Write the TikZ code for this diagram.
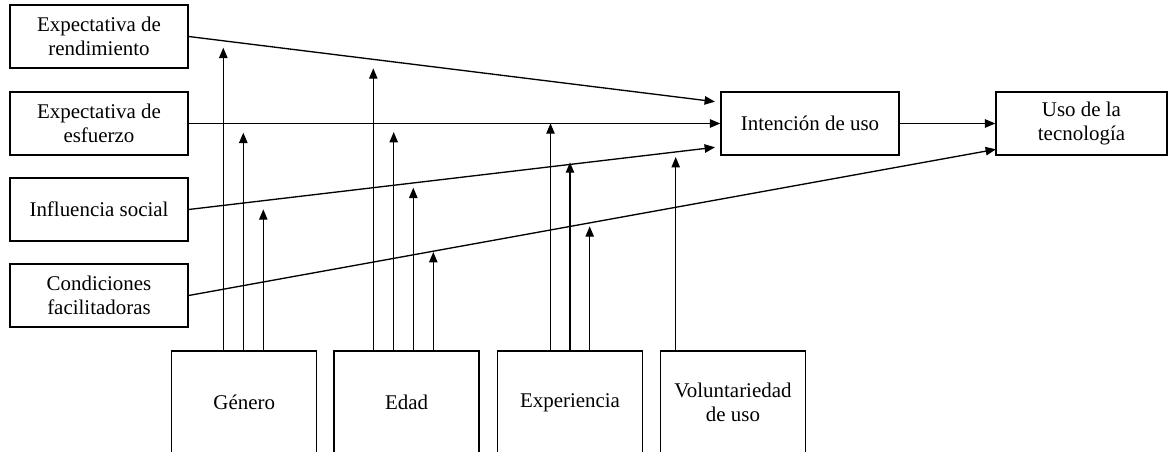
\documentclass[tikz,border=0pt]{standalone}
\usepackage{fontspec}
\setmainfont{Liberation Serif}
\usetikzlibrary{arrows.meta}
\begin{document}
\begin{tikzpicture}[x=0.75pt,y=-0.75pt,line width=1pt,
  box/.style={draw,line width=1pt,align=center,inner sep=2pt,font=\fontsize{15.7pt}{18.5pt}\selectfont},
  lbox/.style={box,minimum width=133.5pt,minimum height=47.25pt},
  bbox/.style={box,minimum width=108.75pt,minimum height=77.25pt},
  arr/.style={-{Triangle[length=7.8pt,width=6.3pt]}}]
\useasboundingbox (0,0) rectangle (1169,452);
\clip (0,0) rectangle (1169,452);
% left boxes
\node[lbox] (er) at (99,36.5) {Expectativa de\\rendimiento};
\node[lbox] (ee) at (99,123.5) {Expectativa de\\esfuerzo};
\node[lbox] (is) at (99,209.5) {Influencia social};
\node[lbox] (cf) at (99,295.5) {Condiciones\\facilitadoras};
% right boxes
\node[lbox] (int) at (810,123.5) {Intención de uso};
\node[box,minimum width=128.25pt,minimum height=47.25pt] (uso) at (1081.5,123.5) {Uso de la\\tecnología};
% bottom boxes
\node[bbox] (gen) at (244.2,402.5) {Género};
\node[bbox] (eda) at (406.5,402.5) {Edad};
\node[bbox] (exp) at (570,402.5) {Experiencia};
\node[bbox] (vol) at (733,402.5) {Voluntariedad\\de uso};
% main connectors
\coordinate (erE) at (715,101.7);
\coordinate (isE) at (715,147.3);
\coordinate (cfE) at (996,149.3);
\draw[arr] (er.east) -- (erE);
\draw[arr] (ee.east) -- (int.west);
\draw[arr] (is.east) -- (isE);
\draw[arr] (cf.east) -- (cfE);
\draw[arr] (int.east) -- (uso.west);
% moderators: Género
\draw[arr] ([xshift=-20.9*0.75pt]gen.north) -- ++(0,-302.7);
\draw[arr] ([xshift=-0.9*0.75pt]gen.north) -- ++(0,-217.7);
\draw[arr] ([xshift=19.1*0.75pt]gen.north) -- ++(0,-141);
% Edad
\draw[arr] ([xshift=-33.2*0.75pt]eda.north) -- ++(0,-282);
\draw[arr] ([xshift=-12.8*0.75pt]eda.north) -- ++(0,-218.3);
\draw[arr] ([xshift=6.8*0.75pt]eda.north) -- ++(0,-162.7);
\draw[arr] ([xshift=26.8*0.75pt]eda.north) -- ++(0,-98.3);
% Experiencia
\draw[arr] ([xshift=-19.5*0.75pt]exp.north) -- ++(0,-227);
\draw[arr] (exp.north) -- ++(0,-188);
\draw[arr] ([xshift=19.7*0.75pt]exp.north) -- ++(0,-124);
% Voluntariedad
\draw[arr] ([xshift=-57.3*0.75pt]vol.north) -- ++(0,-193.3);
\end{tikzpicture}
\end{document}
